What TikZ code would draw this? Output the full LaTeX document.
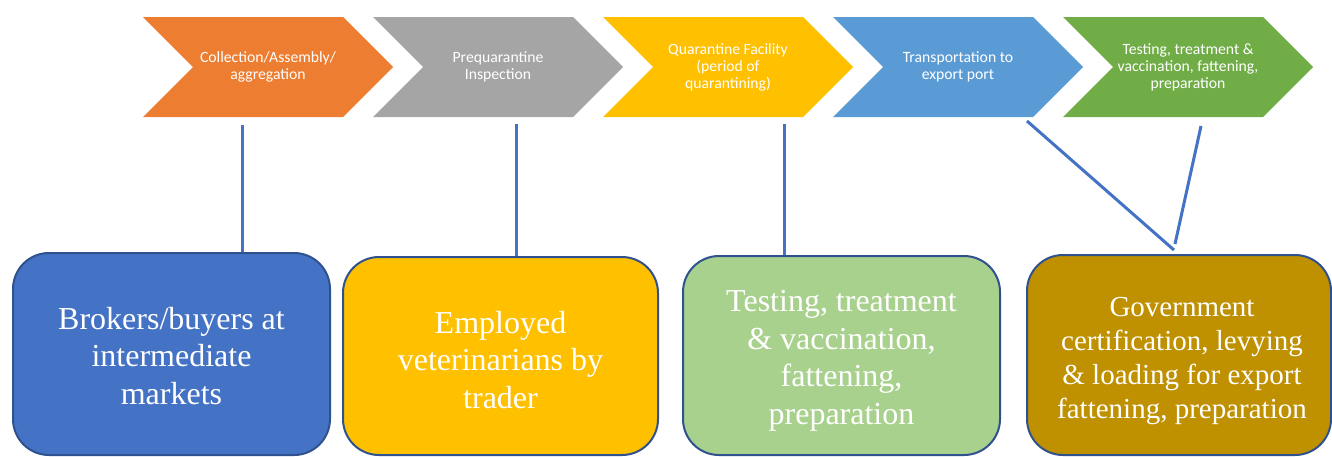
\documentclass[tikz,border=0pt]{standalone}
\usepackage{fontspec}
\setmainfont{Liberation Serif}
\newfontfamily\chevfont{Carlito}
\definecolor{stepOrange}{HTML}{ED7D31}
\definecolor{stepGray}{HTML}{A5A5A5}
\definecolor{stepYellow}{HTML}{FFC000}
\definecolor{stepBlue}{HTML}{5B9BD5}
\definecolor{stepGreen}{HTML}{70AD47}
\definecolor{actorBlue}{HTML}{4472C4}
\definecolor{actorYellow}{HTML}{FFC000}
\definecolor{actorGreen}{HTML}{A9D18E}
\definecolor{actorGold}{HTML}{BF9000}
\definecolor{actorEdge}{HTML}{2F528F}
\definecolor{linkBlue}{HTML}{4472C4}
\begin{document}
\begin{tikzpicture}[x=1pt,y=-1pt,
  chevtext/.style={text=white, font=\chevfont\fontsize{15.7}{17}\selectfont,
    align=center, inner sep=0pt},
  actor/.style={draw=actorEdge, line width=2pt, rounded corners=36pt},
  actortext/.style={text=white, align=center, inner sep=0pt,
    font=\fontsize{32}{37.5}\selectfont},
  link/.style={draw=linkBlue, line width=3pt}]
\useasboundingbox (0,0) rectangle (1332,456);

% process chevrons: left edge x, colour, label
\foreach \l/\c/\n/\t in {
  143/stepOrange/s1/{Collection/Assembly/\\aggregation},
  373/stepGray/s2/{Prequarantine\\Inspection},
  603/stepYellow/s3/{Quarantine Facility\\(period of\\quarantining)},
  833/stepBlue/s4/{Transportation to\\export port},
  1063/stepGreen/s5/{Testing, treatment \&\\vaccination, fattening,\\preparation}} {
  \fill[\c] (\l,17) -- ++(200,0) -- ++(50,50) -- ++(-50,50) -- ++(-200,0)
    -- ++(50,-50) -- cycle;
  \node[chevtext] (\n) at (\l+125,67) {\t};
}

% actors involved at each stage
\node[actor, fill=actorBlue, minimum width=317pt, minimum height=202pt]
  (b1) at (171.5,354) {};
\node[actor, fill=actorYellow, minimum width=315pt, minimum height=198pt]
  (b2) at (500.5,356) {};
\node[actor, fill=actorGreen, minimum width=317pt, minimum height=199pt]
  (b3) at (841.5,355.5) {};
\node[actor, fill=actorGold, minimum width=304pt, minimum height=200pt]
  (b4) at (1179,355) {};

\node[actortext] (t1) at ([yshift=-2pt]b1.center)
  {Brokers/buyers at\\intermediate\\markets};
\node[actortext] (t2) at ([yshift=-4pt]b2.center)
  {Employed\\veterinarians by\\trader};
\node[actortext] (t3) at ([yshift=-5.5pt]b3.center)
  {Testing, treatment\\\& vaccination,\\fattening,\\preparation};
\node[actortext, font=\fontsize{29}{34}\selectfont] (t4)
  at ([xshift=3pt,yshift=-6pt]b4.center)
  {Government\\certification, levying\\\& loading for export\\fattening, preparation};

% connectors from stages down to actors
\coordinate (c1) at (242,125);
\coordinate (c2) at (516,124);
\coordinate (c3) at (784,124);
\coordinate (c4) at (1027,121);
\coordinate (c5) at (1201,126);
\coordinate (j4) at (1174,250);
\coordinate (j5) at (1175,244);
\draw[link] (c1) -- (c1 |- b1.north);
\draw[link] (c2) -- (c2 |- b2.north);
\draw[link] (c3) -- (c3 |- b3.north);
\draw[link] (c4) -- (j4);
\draw[link] (c5) -- (j5);
\end{tikzpicture}
\end{document}
